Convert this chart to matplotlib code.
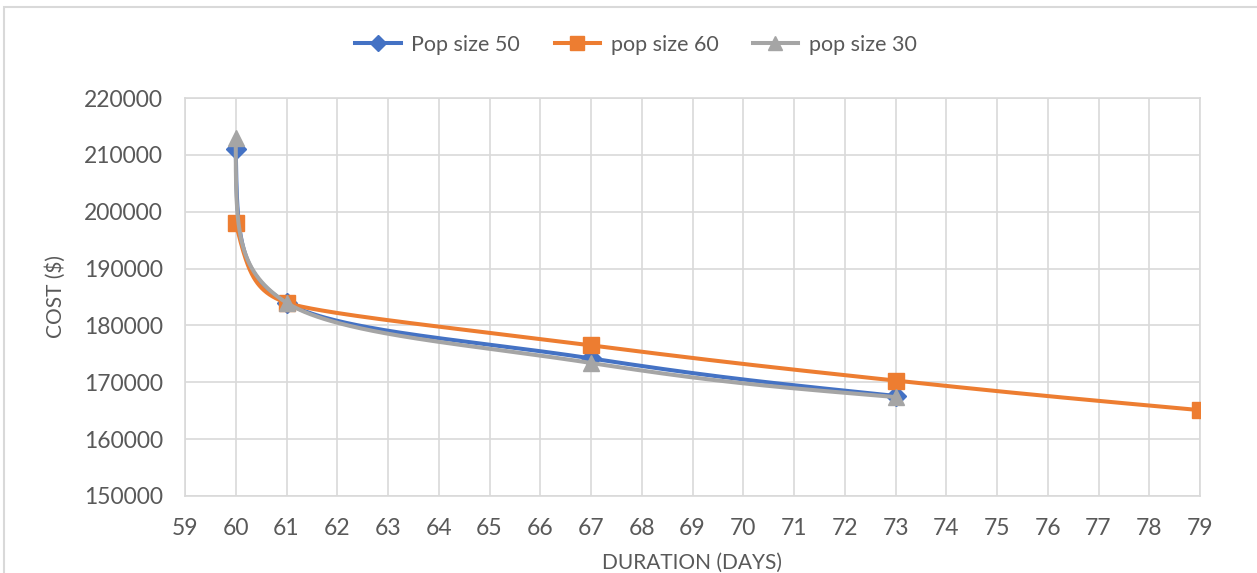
import numpy as np
import matplotlib
matplotlib.use("Agg")
import matplotlib.pyplot as plt
from matplotlib.patches import Rectangle

# Series data: duration (days) vs cost ($)
days_pop50 = [60, 61, 67, 73]
cost_pop50 = [211000, 184000, 174200, 167600]

days_pop60 = [60, 61, 67, 73, 79]
cost_pop60 = [198000, 184000, 176500, 170300, 165100]

days_pop30 = [60, 61, 67, 73]
cost_pop30 = [213000, 184000, 173400, 167400]

series_labels = ["Pop size 50", "pop size 60", "pop size 30"]
x_ticks = list(range(59, 80))
y_ticks = list(range(150000, 220001, 10000))

plt.rcParams["font.family"] = ["Lato", "DejaVu Sans"]

W, H = 1257, 573
fig = plt.figure(figsize=(W / 100, H / 100), dpi=100)
ax = fig.add_axes([185 / W, 1 - 496 / H, (1200 - 185) / W, (496 - 98) / H])

x_min, x_max = 59, 79
y_min, y_max = 150000, 220000
# pixel scale used for the smoothing geometry
sx = (1200 - 185) / (x_max - x_min)
sy = (496 - 98) / (y_max - y_min)


def smooth_curve(xs, ys, n=100, tension=0.4, end_k=0.7):
    """Cubic Bezier smoothing through the points. Tangent handles are
    limited by the shorter of the two adjacent segments; end handles
    point towards the neighbouring inner handle."""
    P = np.column_stack([np.asarray(xs, float) * sx, np.asarray(ys, float) * sy])
    m = len(P)
    d = np.linalg.norm(np.diff(P, axis=0), axis=1)
    ctrl = []
    for i in range(m - 1):
        p1, p2 = P[i], P[i + 1]
        c1 = c2 = None
        if i > 0:
            f = tension * min(d[i - 1], d[i]) / (d[i - 1] + d[i])
            c1 = p1 + (p2 - P[i - 1]) * f
        if i + 2 < m:
            f = tension * min(d[i], d[i + 1]) / (d[i] + d[i + 1])
            c2 = p2 - (P[i + 2] - p1) * f
        ctrl.append([c1, c2])
    for i in range(m - 1):
        p1, p2 = P[i], P[i + 1]
        c1, c2 = ctrl[i]
        if c1 is None and c2 is None:
            c1 = p1 + (p2 - p1) / 3
            c2 = p2 - (p2 - p1) / 3
        elif c1 is None:
            c1 = p1 + (c2 - p1) * end_k
        elif c2 is None:
            c2 = p2 + (c1 - p2) * end_k
        ctrl[i] = [c1, c2]
    out = []
    t = np.linspace(0, 1, n)[:, None]
    for i in range(m - 1):
        p1, p2 = P[i], P[i + 1]
        c1, c2 = ctrl[i]
        seg = ((1 - t) ** 3) * p1 + 3 * ((1 - t) ** 2) * t * c1 \
            + 3 * (1 - t) * t ** 2 * c2 + t ** 3 * p2
        out.append(seg if i == 0 else seg[1:])
    pts = np.vstack(out)
    return pts[:, 0] / sx, pts[:, 1] / sy


styles = [
    (days_pop50, cost_pop50, "#4472C4", "D", 10),
    (days_pop60, cost_pop60, "#ED7D31", "s", 12),
    (days_pop30, cost_pop30, "#A5A5A5", "^", 12),
]

handles = []
for k, ((xs, ys, color, marker, ms), label) in enumerate(zip(styles, series_labels)):
    cx, cy = smooth_curve(xs, ys)
    ax.plot(cx, cy, color=color, lw=2.9, solid_capstyle="round", zorder=3 + k)
    ax.plot(xs, ys, ls="none", marker=marker, ms=ms, color=color,
            markeredgecolor=color, zorder=3 + k)
    h, = ax.plot([], [], color=color, lw=2.9, marker=marker, ms=ms * 0.85,
                 markeredgecolor=color, label=label)
    handles.append(h)

ax.set_xlim(x_min, x_max)
ax.set_ylim(y_min, y_max)
ax.set_xticks(x_ticks)
ax.set_yticks(y_ticks)
ax.grid(True, color="#D9D9D9", lw=1.2)
ax.set_axisbelow(True)
for sp in ax.spines.values():
    sp.set_color("#D9D9D9")
    sp.set_linewidth(1.2)
ax.tick_params(length=0, colors="#595959", labelsize=16.5)
ax.tick_params(axis="x", pad=16)
ax.tick_params(axis="y", pad=16)

ax.set_xlabel("DURATION (DAYS)", fontsize=15, color="#595959", labelpad=10)
ax.set_ylabel("COST ($)", fontsize=15, color="#595959", labelpad=13)

fig.legend(handles=handles, loc="center", bbox_to_anchor=(636 / W, 1 - 45 / H),
           ncol=3, frameon=False, fontsize=15.5, labelcolor="#595959",
           handlelength=2.1, handletextpad=0.5, columnspacing=1.6)

# chart area border
fig.patches.append(Rectangle((4 / W, 0 - 0.05), 1.2, 1 - 7 / H + 0.05,
                             transform=fig.transFigure, fill=False,
                             edgecolor="#D9D9D9", lw=1.5))

fig.savefig("out.png", dpi=100)
